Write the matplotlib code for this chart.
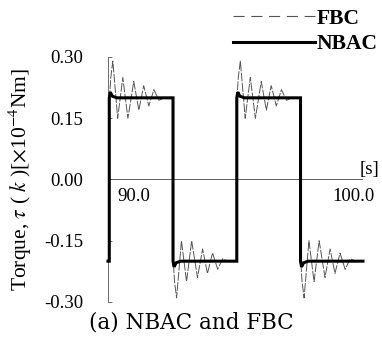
import numpy as np
import matplotlib
matplotlib.use('Agg')
import matplotlib.pyplot as plt
from matplotlib.lines import Line2D

plt.rcParams['font.family'] = ['Liberation Serif', 'DejaVu Serif']
plt.rcParams['mathtext.fontset'] = 'stix'

# square wave reference: switch times [s] and levels [x1e-4 Nm]
t_start = 90.0
t_end = 100.0
start_level = -0.20
switch_times = [90.05, 92.55, 95.05, 97.55]
levels = [0.20, -0.20, 0.20, -0.20]

# NBAC response after each switch (offset [s], value relative to new level)
nbac_dt = [0.00, 0.00, 0.04, 0.12, 0.30]
nbac_rel = [-1.00, 1.00, 1.07, 1.02, 1.00]

# FBC response after each switch: decaying oscillation
fbc_dt = [0.00, 0.00, 0.06, 0.14, 0.33, 0.53, 0.73, 0.96, 1.16, 1.35, 1.55, 1.75, 1.95, 2.15]
fbc_rel = [-1.00, 0.95, 1.25, 1.45, 0.75, 1.25, 0.75, 1.20, 0.85, 1.15, 0.90, 1.10, 0.97, 1.00]

tick_vals = [-0.30, -0.15, 0.00, 0.15, 0.30]
tick_labels = ['-0.30', '-0.15', '0.00', '0.15', '0.30']


def build(dt, rel):
    t = [t_start]
    y = [start_level]
    for ts, lv in zip(switch_times, levels):
        for d, r in zip(dt, rel):
            t.append(ts + d)
            y.append(lv * r)
    t.append(t_end)
    y.append(levels[-1])
    return np.array(t), np.array(y)


t_n, y_n = build(nbac_dt, nbac_rel)
t_f, y_f = build(fbc_dt, fbc_rel)

fig = plt.figure(figsize=(3.82, 3.49), dpi=100)
ax = fig.add_axes([108 / 382, 47 / 349, 255 / 382, 245 / 349])

ax.axhline(0, color='#444444', lw=0.6, zorder=1)
ax.vlines(t_end, 0, 0.012, color='#444444', lw=0.6)

ax.plot(t_f, y_f, color='#555555', lw=0.7, dashes=(9, 1.5), zorder=2, clip_on=False)
ax.plot(t_n, y_n, color='black', lw=2.2, zorder=3, solid_joinstyle='miter', clip_on=False)

ax.set_xlim(t_start, t_end)
ax.set_ylim(-0.30, 0.30)
for s in ['top', 'right', 'bottom']:
    ax.spines[s].set_visible(False)
ax.spines['left'].set_color('#555555')
ax.spines['left'].set_linewidth(0.6)
ax.set_xticks([])
ax.set_yticks(tick_vals)
ax.set_yticklabels(tick_labels, fontsize=13.5)
ax.tick_params(axis='y', direction='in', length=3, width=0.6, color='#555555', pad=18)

ax.text(90.35, -0.02, '90.0', fontsize=13.5, ha='left', va='top')
ax.text(100.45, -0.02, '100.0', fontsize=13.5, ha='right', va='top')
ax.text(100.65, 0.003, '[s]', fontsize=13.5, ha='right', va='bottom')

ax.set_ylabel(r'Torque, $\tau$ ( $k$ )[$\times$10$^{-4}$Nm]', fontsize=15.5)
ax.yaxis.set_label_coords(-0.29, 0.5)

handles = [Line2D([], [], color='#555555', lw=0.8, dashes=(10, 6)),
           Line2D([], [], color='black', lw=2.2)]
fig.legend(handles, ['FBC', 'NBAC'], loc='upper right', bbox_to_anchor=(1.04, 1.03),
           frameon=False, handlelength=3.8, handletextpad=0.1, labelspacing=0.25,
           prop={'family': 'Liberation Serif', 'weight': 'bold', 'size': 15.5})

fig.text(191 / 382, 1 - 322 / 349, '(a) NBAC and FBC', fontsize=15.5,
         family='DejaVu Serif', ha='center', va='center')

fig.savefig('out.png', dpi=100)
